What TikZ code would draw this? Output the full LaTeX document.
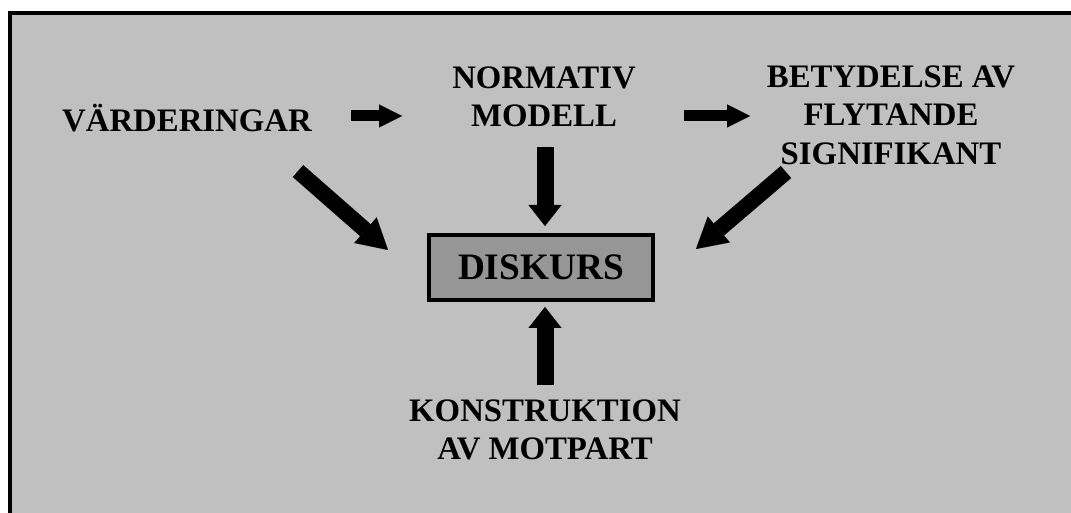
\documentclass[tikz,border=0pt]{standalone}
\usepackage{fontspec}
\setmainfont{Liberation Serif}
\usetikzlibrary{arrows.meta}
\definecolor{bggrey}{RGB}{192,192,192}
\definecolor{boxgrey}{RGB}{150,150,150}
\begin{document}
\begin{tikzpicture}[x=0.75pt,y=-0.75pt,
  lbl/.style={font=\bfseries\fontsize{24.6}{28.9}\selectfont, align=center, inner sep=0pt},
  harrow/.style={line width=8.25pt, -{Triangle[length=17.25pt,width=17.25pt,line width=0.01pt]}},
  varrow/.style={line width=12.75pt, -{Triangle[length=15.75pt,width=24.75pt,line width=0.01pt]}},
  darrow/.style={line width=12pt, -{Triangle[length=22.5pt,width=25.5pt,line width=0.01pt]}},
  mainbox/.style={draw=black, line width=3pt, fill=boxgrey, minimum width=168pt, minimum height=48.75pt, inner sep=0pt, font=\bfseries\fontsize{28}{32}\selectfont}
]
\useasboundingbox (0,0) rectangle (1071,513);
\fill[bggrey] (8,11) rectangle (1071,513);
\draw[line width=3pt] (9.5,513) -- (9.5,13) -- (1071,13);

\node[lbl] (v) at (187,118) {VÄRDERINGAR};
\node[lbl] (n) at (544,97) {NORMATIV\\MODELL};
\node[lbl] (b) at (891,115) {BETYDELSE AV\\FLYTANDE\\SIGNIFIKANT};
\node[mainbox] (d) at (541,267.5) {DISKURS};
\node[lbl] (k) at (545,430) {KONSTRUKTION\\AV MOTPART};

\coordinate (h1s) at (351,116);
\coordinate (h1e) at (402,116);
\coordinate (h2s) at (684,116);
\coordinate (h2e) at (750,116);
\coordinate (dns) at (545,147);
\coordinate (dne) at (545,226);
\coordinate (ups) at (545,385);
\coordinate (upe) at (545,307);
\coordinate (dls) at (298,171);
\coordinate (dle) at (388,250);
\coordinate (drs) at (786,172);
\coordinate (dre) at (696,249);

\draw[harrow] (h1s) -- (h1e);
\draw[harrow] (h2s) -- (h2e);
\draw[varrow] (dns) -- (dne);
\draw[varrow] (ups) -- (upe);
\draw[darrow] (dls) -- (dle);
\draw[darrow] (drs) -- (dre);
\end{tikzpicture}
\end{document}
